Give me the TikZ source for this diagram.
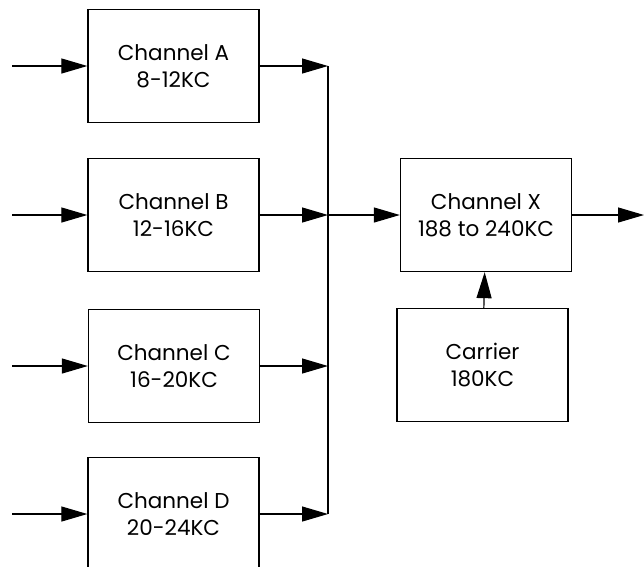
\documentclass[tikz,border=0pt]{standalone}
\usepackage{fontspec}
\setmainfont{Poppins}
\usepackage{tikz}
\usetikzlibrary{shapes,arrows.meta}
\newcommand{\chanbox}[3] {\node at (#1) (#2) [rectangle, draw, line width=1.3pt, minimum width=171pt, minimum height=113pt, align=center, font=\fontsize{21.5}{27}\selectfont] {#3};}
\newcommand{\feedarrow}[2] {\draw [-{Triangle[length=26pt, width=15pt]}, line width=1.2pt] (#1) -- (#2);}
\newcommand{\busline}[2] {\draw [line width=1.2pt] (#1) -- (#2);}

\begin{document}
\begin{tikzpicture}[x=1pt, y=-1pt]
\useasboundingbox (0,0) rectangle (644,566);
\chanbox{173.5,66}{A}{Channel A\\8-12KC}
\chanbox{173.5,215}{B}{Channel B\\12-16KC}
\chanbox{174,366}{C}{Channel C\\16-20KC}
\chanbox{173.5,514}{D}{Channel D\\20-24KC}
\chanbox{486,215}{X}{Channel X\\188 to 240KC}
\chanbox{482.5,365}{carrier}{Carrier\\180KC}
\coordinate (inA) at (12,66);
\coordinate (inB) at (12,215);
\coordinate (inC) at (12,366);
\coordinate (inD) at (12,514);
\coordinate (busA) at (328,66);
\coordinate (busB) at (328,215);
\coordinate (busC) at (328,366);
\coordinate (busD) at (328,514);
\coordinate (out) at (644,215);
\feedarrow {inA}{A}
\feedarrow {inB}{B}
\feedarrow {inC}{C}
\feedarrow {inD}{D}
\feedarrow {A}{busA}
\feedarrow {B}{busB}
\feedarrow {C}{busC}
\feedarrow {D}{busD}
\busline {busA}{busD}
\feedarrow {busB}{X}
\feedarrow {X}{out}
\feedarrow {carrier}{X}
\end{tikzpicture}
\end{document}
